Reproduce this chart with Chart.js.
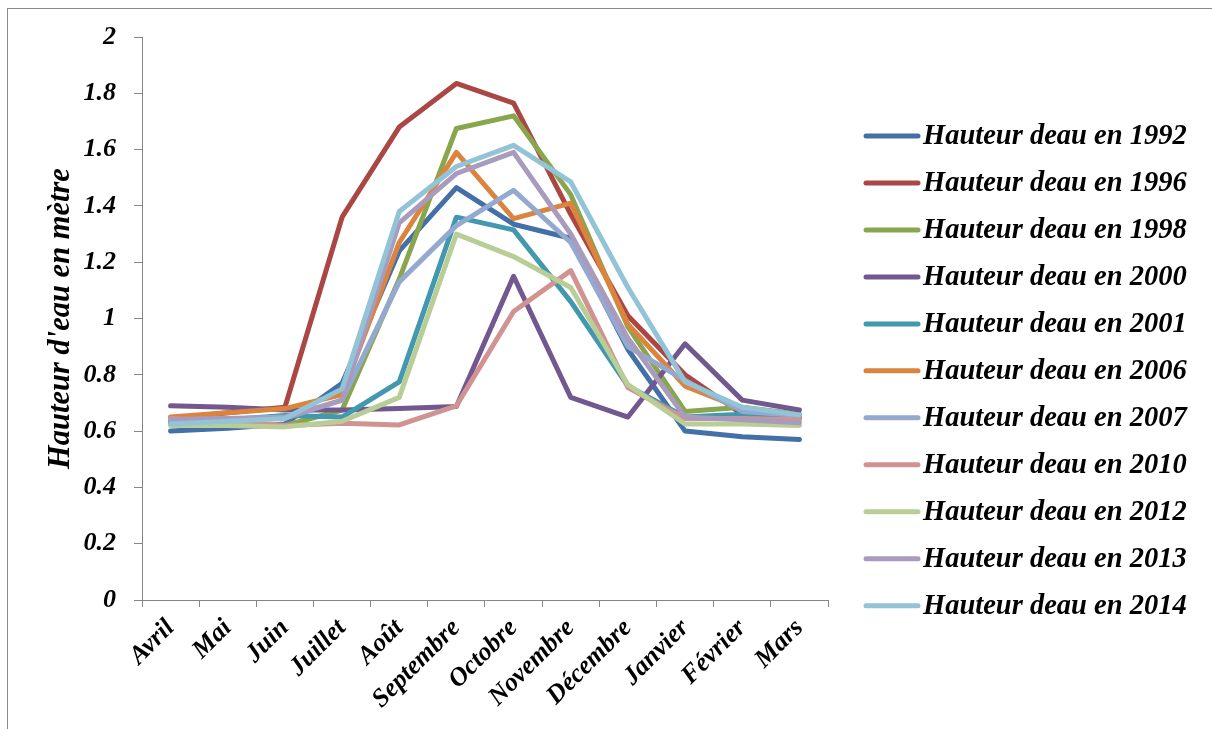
<!DOCTYPE html>
<html>
<head>
<meta charset="utf-8">
<script src="https://cdn.jsdelivr.net/npm/chart.js@4.4.0/dist/chart.umd.min.js"></script>
<style>
  html, body { margin: 0; padding: 0; background: #fff; }
  #wrap { position: relative; width: 1212px; height: 729px; overflow: hidden; }
  #frame { position: absolute; left: 7px; top: 8px; width: 1300px; height: 800px;
           border-left: 1.5px solid #8a8a8a; border-top: 1.5px solid #8a8a8a; pointer-events: none; }
  canvas { position: absolute; left: 0; top: 0; }
</style>
</head>
<body>
<div id="wrap">
  <canvas id="c" width="1212" height="729"></canvas>
  <div id="frame"></div>
</div>
<script>
const months = ['Avril','Mai','Juin','Juillet','Août','Septembre','Octobre','Novembre','Décembre','Janvier','Février','Mars'];
const yTicks = [0, 0.2, 0.4, 0.6, 0.8, 1, 1.2, 1.4, 1.6, 1.8, 2];

const h1992 = [0.60, 0.61, 0.625, 0.77, 1.24, 1.465, 1.335, 1.285, 0.89, 0.60, 0.58, 0.57];
const h1996 = [0.645, 0.665, 0.685, 1.36, 1.68, 1.835, 1.765, 1.37, 1.01, 0.80, 0.66, 0.65];
const h1998 = [0.63, 0.625, 0.62, 0.675, 1.14, 1.675, 1.72, 1.44, 0.97, 0.67, 0.685, 0.66];
const h2000 = [0.69, 0.685, 0.675, 0.675, 0.68, 0.687, 1.15, 0.72, 0.65, 0.91, 0.71, 0.675];
const h2001 = [0.63, 0.64, 0.655, 0.65, 0.775, 1.36, 1.315, 1.06, 0.76, 0.65, 0.66, 0.65];
const h2006 = [0.65, 0.665, 0.68, 0.73, 1.27, 1.59, 1.355, 1.41, 0.98, 0.76, 0.68, 0.655];
const h2007 = [0.64, 0.645, 0.65, 0.71, 1.13, 1.33, 1.455, 1.27, 0.90, 0.78, 0.67, 0.655];
const h2010 = [0.645, 0.635, 0.62, 0.628, 0.622, 0.69, 1.025, 1.17, 0.755, 0.645, 0.645, 0.64];
const h2012 = [0.62, 0.62, 0.615, 0.635, 0.72, 1.30, 1.22, 1.11, 0.765, 0.625, 0.625, 0.62];
const h2013 = [0.64, 0.645, 0.645, 0.71, 1.34, 1.515, 1.59, 1.30, 0.93, 0.65, 0.64, 0.63];
const h2014 = [0.625, 0.635, 0.645, 0.75, 1.38, 1.54, 1.615, 1.485, 1.11, 0.775, 0.685, 0.657];

const seriesNames = ['Hauteur deau en 1992','Hauteur deau en 1996','Hauteur deau en 1998','Hauteur deau en 2000','Hauteur deau en 2001','Hauteur deau en 2006','Hauteur deau en 2007','Hauteur deau en 2010','Hauteur deau en 2012','Hauteur deau en 2013','Hauteur deau en 2014'];
const seriesData = [h1992, h1996, h1998, h2000, h2001, h2006, h2007, h2010, h2012, h2013, h2014];
const colors = ['#4470A8','#AA4643','#89A54E','#71588F','#4198AF','#DB843D','#93A9CF','#D19392','#B9CD96','#A99BBD','#92C3D6'];

const FONT = "'Liberation Serif', 'Times New Roman', serif";

const datasets = seriesNames.map((name, i) => ({
  label: name,
  data: seriesData[i],
  borderColor: colors[i],
  backgroundColor: colors[i],
  borderWidth: 5,
  pointRadius: 0,
  tension: 0,
  fill: false,
  borderJoinStyle: 'round',
  borderCapStyle: 'round',
  order: seriesNames.length - i
}));

const legendPlugin = {
  id: 'sideLegend',
  afterDraw(chart) {
    const ctx = chart.ctx;
    ctx.save();
    ctx.font = "italic bold 28.5px " + FONT;
    ctx.textBaseline = 'middle';
    ctx.textAlign = 'left';
    chart.data.datasets.forEach((ds, i) => {
      const y = 136 + i * 46.97;
      ctx.strokeStyle = ds.borderColor;
      ctx.lineWidth = 5;
      ctx.lineCap = 'round';
      ctx.beginPath();
      ctx.moveTo(866, y);
      ctx.lineTo(918, y);
      ctx.stroke();
      ctx.fillStyle = '#000';
      ctx.fillText(ds.label, 923, y + 1);
    });
    ctx.restore();
  }
};

new Chart(document.getElementById('c'), {
  type: 'line',
  data: { labels: months, datasets },
  options: {
    responsive: false,
    animation: false,
    layout: { padding: { left: 0, top: 37, right: 384, bottom: 0 } },
    plugins: { legend: { display: false }, tooltip: { enabled: false } },
    scales: {
      x: {
        type: 'category',
        offset: true,
        grid: { display: true, offset: true, drawOnChartArea: false, drawTicks: true, tickLength: 7, color: '#868686', lineWidth: 1 },
        border: { display: true, color: '#868686', width: 1 },
        ticks: { autoSkip: false, minRotation: 45, maxRotation: 45, padding: 6, color: '#000',
                 font: { family: FONT, size: 26, style: 'italic', weight: 'bold' } },
        afterFit(scale) { scale.height = 129; }
      },
      y: {
        min: 0, max: 2,
        afterBuildTicks(scale) { scale.ticks = yTicks.map(v => ({ value: v })); },
        grid: { display: true, drawOnChartArea: false, drawTicks: true, tickLength: 8, color: '#868686', lineWidth: 1 },
        border: { display: true, color: '#868686', width: 1 },
        ticks: { padding: 18, color: '#000', font: { family: FONT, size: 26, style: 'italic', weight: 'bold' },
                 callback: (v) => String(v) },
        title: { display: true, text: "Hauteur d'eau en mètre", color: '#000', padding: { top: 43, bottom: 0 },
                 font: { family: FONT, size: 30.5, style: 'italic', weight: 'bold' } },
        afterFit(scale) { scale.width = 142; }
      }
    }
  },
  plugins: [legendPlugin]
});
</script>
</body>
</html>
